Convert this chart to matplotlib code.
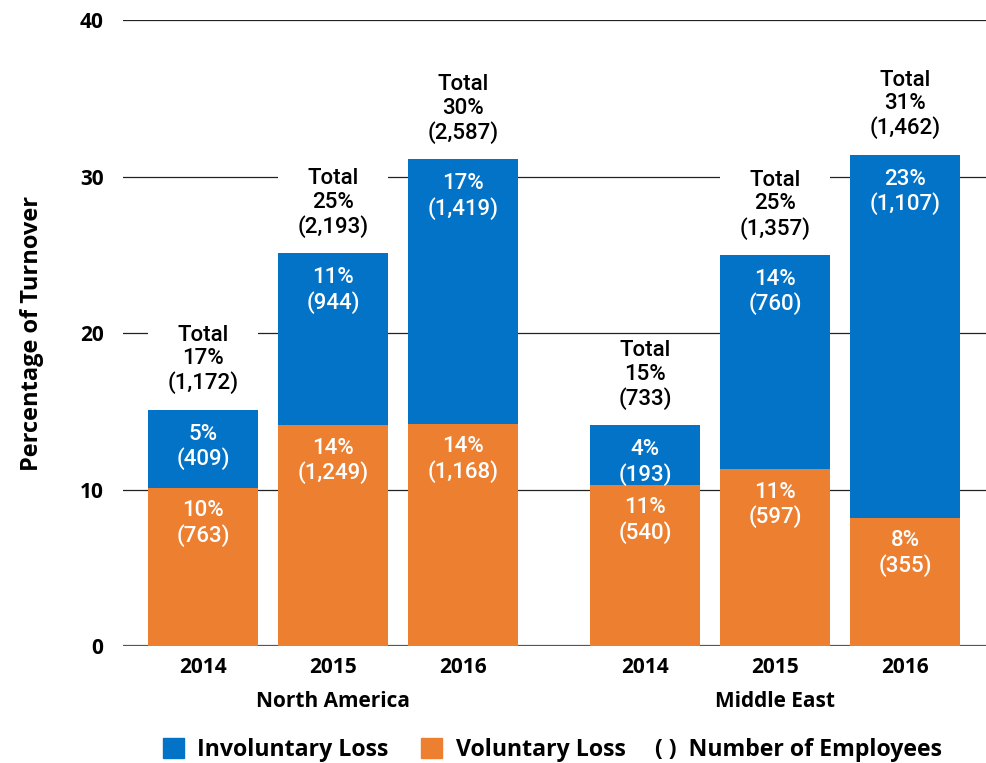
import matplotlib.pyplot as plt
from matplotlib.patches import Patch

# stacked turnover bars, two regions x three years
years = ['2014', '2015', '2016', '2014', '2015', '2016']
regions = ['North America', 'Middle East']
voluntary = [10.1, 14.1, 14.2, 10.3, 11.3, 8.2]
involuntary = [5.0, 11.0, 16.9, 3.8, 13.7, 23.2]
vol_labels = ['10%\n(763)', '14%\n(1,249)', '14%\n(1,168)', '11%\n(540)', '11%\n(597)', '8%\n(355)']
inv_labels = ['5%\n(409)', '11%\n(944)', '17%\n(1,419)', '4%\n(193)', '14%\n(760)', '23%\n(1,107)']
total_labels = ['Total\n17%\n(1,172)', 'Total\n25%\n(2,193)', 'Total\n30%\n(2,587)',
                'Total\n15%\n(733)', 'Total\n25%\n(1,357)', 'Total\n31%\n(1,462)']

blue = '#0373C8'
orange = '#ED7F31'
plt.rcParams['font.family'] = 'Open Sans'
lab = dict(family='Roboto', weight='medium', size=16, linespacing=1.15)

x = [0, 1, 2, 3.4, 4.4, 5.4]
w = 0.846

fig = plt.figure(figsize=(9.86, 7.63), dpi=100)
ax = fig.add_axes([0.1247, 0.1533, 0.8753, 0.8204])

ax.bar(x, voluntary, width=w, color=orange, zorder=2)
tops = [v + i for v, i in zip(voluntary, involuntary)]
ax.bar(x, involuntary, width=w, bottom=voluntary, color=blue, zorder=2)
# white box behind the total labels hides the gridlines there
ax.bar(x, 5.5, width=w, bottom=tops, color='white', zorder=1)

for xi, v, t, vl, il, tl in zip(x, voluntary, tops, vol_labels, inv_labels, total_labels):
    ax.annotate(vl, (xi, v), xytext=(0, -9), textcoords='offset points', ha='center', va='top',
                color='white', zorder=3, **lab)
    ax.annotate(il, (xi, t), xytext=(0, -10), textcoords='offset points', ha='center', va='top',
                color='white', zorder=3, **lab)
    ax.annotate(tl, (xi, t), xytext=(0, 11), textcoords='offset points', ha='center', va='bottom',
                color='black', zorder=3, **lab)

ax.set_ylim(0, 40)
ax.set_xlim(-0.615, 6.02)
ax.set_yticks([0, 10, 20, 30, 40])
ax.yaxis.grid(True, color='#222222', linewidth=0.9, zorder=0)
ax.set_axisbelow(True)
for s in ax.spines.values():
    s.set_visible(False)
ax.axhline(0, color='#555555', linewidth=1.6, zorder=1.5)

ax.set_xticks(x)
ax.set_xticklabels(years, fontsize=15, fontweight='bold')
ax.tick_params(axis='x', length=0, pad=8, labelsize=15)
ax.tick_params(axis='y', length=0, pad=14, labelsize=15)
for lbl in ax.get_yticklabels():
    lbl.set_fontweight('bold')

ax.text(x[1], -0.088, regions[0], transform=ax.get_xaxis_transform(), ha='center', va='center',
        fontsize=15, fontweight='bold')
ax.text(x[4], -0.088, regions[1], transform=ax.get_xaxis_transform(), ha='center', va='center',
        fontsize=15, fontweight='bold')

ax.set_ylabel('Percentage of Turnover', fontsize=17, fontweight='bold', labelpad=26)

handles = [Patch(color=blue), Patch(color=orange)]
fig.legend(handles, ['Involuntary Loss', 'Voluntary Loss'],
           loc='center left', bbox_to_anchor=(0.165, 0.017), ncol=2, frameon=False,
           prop={'size': 16.7, 'weight': 'bold'}, handlelength=0.9, handleheight=0.9,
           handletextpad=0.6, columnspacing=1.4, borderaxespad=0, borderpad=0)
fig.text(0.664, 0.017, '( )  Number of Employees', ha='left', va='center',
         fontsize=16.7, fontweight='bold')

fig.savefig('out.png', dpi=100)
